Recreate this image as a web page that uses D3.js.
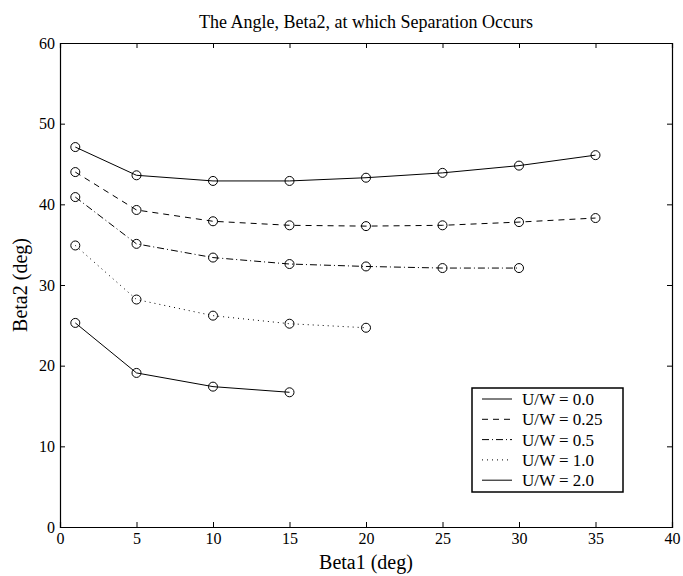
<!DOCTYPE html>
<html>
  <head>
    <meta charset="utf-8" />
    <title>The Angle, Beta2, at which Separation Occurs</title>
    <style>
      body { margin: 0; background: #fff; }
      svg text { font-family: "Liberation Serif", "Times New Roman", serif; fill: #000; }
    </style>
  </head>
  <body>
    <div id="plot"></div>

    <script src="https://d3js.org/d3.v7.min.js"></script>
    <script>
      // data
      const beta1 = [1, 5, 10, 15, 20, 25, 30, 35];
      const uw00 = [47.1, 43.6, 42.9, 42.9, 43.3, 43.9, 44.8, 46.1];
      const uw025 = [44.0, 39.3, 37.9, 37.4, 37.3, 37.4, 37.8, 38.3];
      const uw05 = [40.9, 35.1, 33.4, 32.6, 32.3, 32.1, 32.1];
      const uw10 = [34.9, 28.2, 26.2, 25.2, 24.7];
      const uw20 = [25.3, 19.1, 17.4, 16.7];
      const seriesLabels = ["U/W = 0.0", "U/W = 0.25", "U/W = 0.5", "U/W = 1.0", "U/W = 2.0"];
      const xTicks = [0, 5, 10, 15, 20, 25, 30, 35, 40];
      const yTicks = [0, 10, 20, 30, 40, 50, 60];

      const width = 683, height = 576;
      const margin = { top: 43, right: 11, bottom: 49, left: 60 };

      // matlab line styles
      const dashes = [null, "6,5", "7,3,1,3", "1,4", null];
      const allY = [uw00, uw025, uw05, uw10, uw20];
      const series = allY.map((ys, i) => ({
        label: seriesLabels[i],
        dash: dashes[i],
        points: ys.map((v, j) => ({ x: beta1[j], y: v }))
      }));

      const svg = d3.select("#plot")
        .append("svg")
        .attr("width", width)
        .attr("height", height);

      const x = d3.scaleLinear()
        .domain([0, 40])
        .range([margin.left, width - margin.right]);

      const y = d3.scaleLinear()
        .domain([0, 60])
        .range([height - margin.bottom, margin.top]);

      // tick marks go inward on all four sides
      svg.append("g")
        .attr("transform", `translate(0, ${height - margin.bottom})`)
        .call(d3.axisBottom(x).tickValues(xTicks).tickSize(-5).tickPadding(6).tickFormat(d3.format("d")))
        .call(g => g.selectAll("text").style("font-size", "16px"));

      svg.append("g")
        .attr("transform", `translate(0, ${margin.top})`)
        .call(d3.axisTop(x).tickValues(xTicks).tickSize(-5).tickFormat(""));

      svg.append("g")
        .attr("transform", `translate(${margin.left}, 0)`)
        .call(d3.axisLeft(y).tickValues(yTicks).tickSize(-5).tickPadding(5).tickFormat(d3.format("d")))
        .call(g => g.selectAll("text").style("font-size", "16px"));

      svg.append("g")
        .attr("transform", `translate(${width - margin.right}, 0)`)
        .call(d3.axisRight(y).tickValues(yTicks).tickSize(-5).tickFormat(""));

      svg.selectAll(".domain").attr("stroke", "#000").attr("stroke-width", 1.2);
      svg.selectAll(".tick line").attr("stroke", "#000");

      const line = d3.line()
        .x(d => x(d.x))
        .y(d => y(d.y));

      const plots = svg.append("g")
        .selectAll("g")
        .data(series)
        .join("g");

      plots.append("path")
        .attr("d", d => line(d.points))
        .attr("fill", "none")
        .attr("stroke", "#000")
        .attr("stroke-width", 1)
        .attr("stroke-dasharray", d => d.dash);

      plots.selectAll("circle")
        .data(d => d.points)
        .join("circle")
        .attr("cx", d => x(d.x))
        .attr("cy", d => y(d.y))
        .attr("r", 4.5)
        .attr("fill", "none")
        .attr("stroke", "#000")
        .attr("stroke-width", 1);

      // title and axis labels
      svg.append("text")
        .attr("x", (margin.left + width - margin.right) / 2)
        .attr("y", 28)
        .attr("text-anchor", "middle")
        .style("font-size", "18px")
        .text("The Angle, Beta2, at which Separation Occurs");

      svg.append("text")
        .attr("x", (margin.left + width - margin.right) / 2)
        .attr("y", 569)
        .attr("text-anchor", "middle")
        .style("font-size", "20px")
        .text("Beta1 (deg)");

      svg.append("text")
        .attr("transform", `translate(27, ${(margin.top + height - margin.bottom) / 2}) rotate(-90)`)
        .attr("text-anchor", "middle")
        .style("font-size", "20px")
        .text("Beta2 (deg)");

      // legend
      const legX = 472, legY = 388, legW = 151, legH = 104, rowH = 20.3;
      const legend = svg.append("g");
      legend.append("rect")
        .attr("x", legX)
        .attr("y", legY)
        .attr("width", legW)
        .attr("height", legH)
        .attr("fill", "#fff")
        .attr("stroke", "#000")
        .attr("stroke-width", 1.5);

      const rows = legend.selectAll(".row")
        .data(series)
        .join("g")
        .attr("class", "row")
        .attr("transform", (d, i) => `translate(${legX}, ${legY + 11 + i * rowH})`);

      rows.append("line")
        .attr("x1", 10)
        .attr("x2", 40)
        .attr("stroke", "#000")
        .attr("stroke-dasharray", d => d.dash);

      rows.append("text")
        .attr("x", 50)
        .attr("dy", "0.35em")
        .style("font-size", "17px")
        .text(d => d.label);
    </script>
  </body>
</html>
